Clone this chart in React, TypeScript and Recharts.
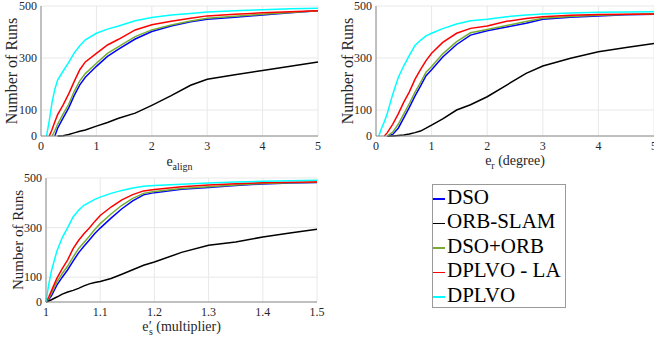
import { LineChart, Line, XAxis, YAxis, CartesianGrid } from "recharts";

// series order matches the legend
const SERIES_KEYS = ["dso", "orb", "dsoOrb", "la", "dplvo"];
const SERIES_NAMES = ["DSO", "ORB-SLAM", "DSO+ORB", "DPLVO - LA", "DPLVO"];

const COLORS: Record<string, string> = {
  dso: "#0000FF",
  orb: "#000000",
  dsoOrb: "#77AC30",
  la: "#FF0000",
  dplvo: "#00FFFF",
};

const Y_TICKS = [0, 100, 300, 500];

// e_align panel
const ALIGN_X = [0.1, 0.15, 0.2, 0.25, 0.3, 0.4, 0.5, 0.6, 0.7, 0.8, 1.0, 1.2, 1.4, 1.7, 2.0, 2.35, 2.7, 3.0, 3.5, 4.0, 4.5, 5.0];
const ALIGN_DSO = [null, null, null, 0, 30, 70, 108, 156, 197, 226, 268, 306, 334, 373, 402, 423, 439, 449, 457, 465, 474, 482];
const ALIGN_ORB = [null, null, null, null, 0, 1, 6, 12, 18, 23, 38, 52, 68, 88, 118, 155, 195, 218, 236, 252, 268, 285];
const ALIGN_DSO_ORB = [null, null, 0, 20, 45, 85, 122, 172, 212, 240, 280, 318, 344, 382, 408, 427, 442, 453, 461, 468, 475, 482];
const ALIGN_LA = [null, 0, 25, 55, 82, 120, 162, 210, 255, 285, 318, 350, 372, 408, 428, 441, 453, 462, 468, 474, 478, 482];
const ALIGN_DPLVO = [0, 60, 130, 180, 215, 250, 283, 320, 347, 370, 395, 411, 423, 443, 456, 465, 471, 477, 482, 486, 489, 491];
const ALIGN_TICKS = [0, 1, 2, 3, 4, 5];

// e_r panel
const ROT_X = [0.05, 0.1, 0.15, 0.2, 0.3, 0.4, 0.5, 0.6, 0.7, 0.8, 0.9, 1.0, 1.2, 1.45, 1.7, 2.0, 2.35, 2.7, 3.0, 3.5, 4.0, 4.5, 5.0];
const ROT_DSO = [null, null, null, 0, 6, 30, 70, 110, 153, 192, 232, 255, 304, 352, 388, 405, 419, 434, 449, 457, 462, 466, 468];
const ROT_ORB = [null, null, null, 0, 0, 2, 4, 8, 13, 19, 30, 42, 66, 100, 120, 151, 196, 241, 269, 299, 324, 340, 356];
const ROT_DSO_ORB = [null, null, null, 0, 15, 45, 85, 125, 168, 205, 245, 267, 316, 363, 397, 410, 425, 440, 453, 460, 464, 467, 469];
const ROT_LA = [null, null, 0, 12, 45, 85, 130, 170, 218, 255, 290, 318, 360, 395, 414, 423, 441, 452, 459, 464, 467, 468, 469];
const ROT_DPLVO = [0, 30, 55, 85, 160, 225, 270, 310, 348, 368, 385, 395, 413, 431, 443, 449, 459, 465, 469, 473, 476, 477, 478];
const ROT_TICKS = [0, 1, 2, 3, 4, 5];

// e'_s panel
const SCALE_X = [1.0, 1.005, 1.01, 1.02, 1.03, 1.04, 1.05, 1.06, 1.07, 1.08, 1.09, 1.1, 1.12, 1.14, 1.16, 1.18, 1.2, 1.25, 1.3, 1.35, 1.4, 1.45, 1.5];
const SCALE_DSO = [0, 10, 25, 68, 100, 130, 165, 198, 225, 250, 276, 298, 338, 376, 408, 432, 441, 455, 462, 470, 476, 480, 482];
const SCALE_ORB = [0, 4, 9, 20, 32, 40, 47, 55, 65, 73, 79, 83, 95, 112, 130, 148, 161, 200, 229, 242, 262, 278, 293];
const SCALE_DSO_ORB = [0, 15, 35, 80, 115, 145, 181, 215, 240, 265, 292, 316, 355, 390, 418, 438, 446, 458, 465, 472, 478, 481, 483];
const SCALE_LA = [0, 20, 45, 95, 135, 170, 215, 248, 275, 298, 325, 349, 383, 412, 433, 448, 454, 465, 472, 477, 481, 483, 484];
const SCALE_DPLVO = [0, 70, 125, 205, 260, 300, 343, 370, 390, 402, 414, 423, 438, 450, 460, 467, 470, 475, 480, 484, 487, 489, 491];
const SCALE_TICKS = [1, 1.1, 1.2, 1.3, 1.4, 1.5];

const buildRows = (xs: number[], cols: (number | null)[][]) =>
  xs.map((x, i) => {
    const row: Record<string, number | null> = { x };
    SERIES_KEYS.forEach((k, j) => {
      row[k] = cols[j][i];
    });
    return row;
  });

const alignRows = buildRows(ALIGN_X, [ALIGN_DSO, ALIGN_ORB, ALIGN_DSO_ORB, ALIGN_LA, ALIGN_DPLVO]);
const rotRows = buildRows(ROT_X, [ROT_DSO, ROT_ORB, ROT_DSO_ORB, ROT_LA, ROT_DPLVO]);
const scaleRows = buildRows(SCALE_X, [SCALE_DSO, SCALE_ORB, SCALE_DSO_ORB, SCALE_LA, SCALE_DPLVO]);

const FONT = '"Liberation Serif", "DejaVu Serif", serif';
const TEXT = "#262626";

const YTitle = ({ viewBox, baseX, size }: any) => {
  const cy = viewBox.y + viewBox.height / 2;
  return (
    <text
      x={baseX}
      y={cy}
      transform={`rotate(-90 ${baseX} ${cy})`}
      textAnchor="middle"
      style={{ fontFamily: FONT }}
      fontSize={size}
      fill={TEXT}
    >
      Number of Runs
    </text>
  );
};

const XTitle = ({ viewBox, sub, prime, rest, gap }: any) => {
  const cx = viewBox.x + viewBox.width / 2;
  const y = viewBox.y + gap;
  return (
    <text x={cx} y={y} textAnchor="middle" style={{ fontFamily: FONT }} fontSize={14} fill={TEXT}>
      e
      {prime && <tspan dx={0.5}>′</tspan>}
      <tspan fontSize={10} dy={4} dx={prime ? -3 : 0}>
        {sub}
      </tspan>
      <tspan dy={-4}>{rest}</tspan>
    </text>
  );
};

interface PanelProps {
  left: number;
  top: number;
  width: number;
  height: number;
  margin: { top: number; right: number; bottom: number; left: number };
  yWidth: number;
  rows: Record<string, number | null>[];
  domain: [number, number];
  ticks: number[];
  yTitleX: number;
  yTitleSize: number;
  sub: string;
  prime?: boolean;
  rest?: string;
  gap: number;
}

const tickStyle = { fill: TEXT, fontSize: 12, style: { fontFamily: FONT } };

const Panel = (p: PanelProps) => (
  <div style={{ position: "absolute", left: p.left, top: p.top }}>
    <LineChart width={p.width} height={p.height} data={p.rows} margin={p.margin}>
      <CartesianGrid stroke="#e8e8e8" />
      <XAxis
        dataKey="x"
        type="number"
        domain={p.domain}
        ticks={p.ticks}
        interval={0}
        height={30}
        axisLine={{ stroke: "#8c8c8c" }}
        tickLine={false}
        tickSize={0}
        tickMargin={5}
        tick={tickStyle}
        label={<XTitle sub={p.sub} prime={p.prime} rest={p.rest} gap={p.gap} />}
      />
      <YAxis
        type="number"
        domain={[0, 500]}
        ticks={Y_TICKS}
        interval={0}
        width={p.yWidth}
        axisLine={{ stroke: "#8c8c8c" }}
        tickLine={false}
        tickSize={0}
        tickMargin={4}
        tick={tickStyle}
        label={<YTitle baseX={p.yTitleX} size={p.yTitleSize} />}
      />
      {SERIES_KEYS.map((k, i) => (
        <Line
          key={k}
          dataKey={k}
          name={SERIES_NAMES[i]}
          stroke={COLORS[k]}
          strokeWidth={1.5}
          dot={false}
          type="linear"
          isAnimationActive={false}
        />
      ))}
    </LineChart>
  </div>
);

const LegendBox = () => (
  <div
    style={{
      position: "absolute",
      left: 432,
      top: 184,
      width: 134,
      height: 124,
      boxSizing: "border-box",
      border: "1px solid #9a9a9a",
      background: "#fff",
      fontFamily: FONT,
      fontSize: 21,
      color: "#000",
    }}
  >
    {SERIES_KEYS.map((k, i) => (
      <div key={k} style={{ height: 24.4, lineHeight: "24.4px", whiteSpace: "nowrap" }}>
        <span
          style={{
            display: "inline-block",
            width: 12,
            height: 1.5,
            background: COLORS[k],
            verticalAlign: "middle",
          }}
        />
        <span style={{ marginLeft: 2 }}>{SERIES_NAMES[i]}</span>
      </div>
    ))}
  </div>
);

export default function App() {
  return (
    <div
      style={{
        position: "absolute",
        left: 0,
        top: 0,
        width: 654,
        height: 343,
        background: "#fff",
        overflow: "hidden",
        fontFamily: FONT,
      }}
    >
      <Panel
        left={0}
        top={0}
        width={330}
        height={176}
        margin={{ top: 6, right: 12, bottom: 10, left: 0 }}
        yWidth={41}
        rows={alignRows}
        domain={[0, 5]}
        ticks={ALIGN_TICKS}
        yTitleX={17}
        yTitleSize={16}
        sub="align"
        gap={30}
      />
      <Panel
        left={330}
        top={0}
        width={324}
        height={176}
        margin={{ top: 6, right: 0, bottom: 10, left: 0 }}
        yWidth={46}
        rows={rotRows}
        domain={[0, 5]}
        ticks={ROT_TICKS}
        yTitleX={22.5}
        yTitleSize={16}
        sub="r"
        rest=" (degree)"
        gap={29}
      />
      <Panel
        left={0}
        top={170}
        width={330}
        height={173}
        margin={{ top: 8, right: 13, bottom: 11, left: 0 }}
        yWidth={46}
        rows={scaleRows}
        domain={[1, 1.5]}
        ticks={SCALE_TICKS}
        yTitleX={22.5}
        yTitleSize={15}
        sub="s"
        prime
        rest=" (multiplier)"
        gap={29}
      />
      <LegendBox />
    </div>
  );
}
